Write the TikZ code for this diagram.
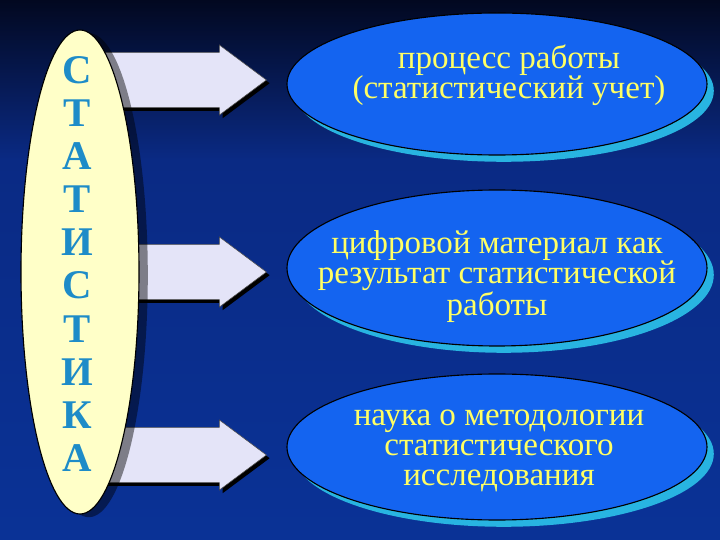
\documentclass[tikz,border=0pt]{standalone}
\usepackage{fontspec}
\setmainfont{Liberation Serif}
\usepackage{tikz}
\usetikzlibrary{calc, shadows, shapes.geometric}
\definecolor{bgtop}{RGB}{2,8,32}
\definecolor{bgmid}{RGB}{10,42,132}
\definecolor{bgbot}{RGB}{10,50,150}
\definecolor{paleyellow}{RGB}{255,255,200}
\definecolor{letterblue}{RGB}{30,140,200}
\definecolor{arrowfill}{RGB}{228,228,248}
\definecolor{bubbleblue}{RGB}{20,100,240}
\definecolor{bubbleshadow}{RGB}{40,180,225}
\definecolor{textyellow}{RGB}{255,255,100}
\tikzset{
    % tall yellow ellipse holding the word, letter by letter
    titlebar/.style={ellipse, draw=black, thick, fill=paleyellow,
        minimum width=2.95cm, minimum height=12.1cm, inner sep=0pt,
        drop shadow={shadow xshift=0.22cm, shadow yshift=-0.08cm,
            fill=black, opacity=0.45}},
    % one letter of the word
    letter/.style={font=\fontsize{29}{29}\selectfont\bfseries,
        text=letterblue, inner sep=0pt},
    % blue ellipse on the right, one per meaning
    bubble/.style={ellipse, draw=black, thick, fill=bubbleblue,
        minimum width=10.5cm, inner sep=0pt,
        drop shadow={shadow xshift=0.17cm, shadow yshift=-0.17cm,
            fill=bubbleshadow, opacity=1}},
    % text inside a bubble
    bubbletext/.style={font=\fontsize{23.5}{21.5}\selectfont,
        text=textyellow, align=center, inner sep=0pt},
    % wide block arrow with a dark drop shadow
    blockarr/.style={fill=arrowfill, draw=black!70, thin,
        preaction={fill=black, transform canvas={xshift=0.08cm, yshift=-0.08cm}}},
}
\begin{document}
\begin{tikzpicture}

    \useasboundingbox (0,0) rectangle (18,13.5);

    % --- background ---
    \shade[top color=bgtop, bottom color=bgmid] (0,9.5) rectangle (18,13.5);
    \shade[top color=bgmid, bottom color=bgbot] (0,0) rectangle (18,9.5);

    % --- meanings (right) ---
    \node[bubble, minimum height=3.55cm] (p1) at (12.425, 11.4)  {};
    \node[bubble, minimum height=3.9cm]  (p2) at (12.425, 6.8)   {};
    \node[bubble, minimum height=3.65cm] (p3) at (12.425, 2.325) {};

    \node[bubbletext] (t1) at ($(p1)+(0.3,0.22)$)
        {процесс работы\\(статистический учет)};
    \node[bubbletext] (t2) at ($(p2)+(0,-0.22)$)
        {цифровой материал как\\результат статистической\\работы};
    \node[bubbletext] (t3) at ($(p3)+(0.05,-0.1)$)
        {наука о методологии\\статистического\\исследования};

    % --- block arrows, tail hidden under the word ---
    \foreach \ay [count=\i] in {11.5, 6.7, 2.125}{
        \coordinate (tail\i) at (2.6, \ay);
        \coordinate (tip\i) at ($(p\i.west |- tail\i)+(-0.5,0)$);
        \draw[blockarr] ($(tail\i)+(0,0.69)$) -- ($(tip\i)+(-1.175,0.69)$)
            -- ($(tip\i)+(-1.175,0.875)$) -- (tip\i)
            -- ($(tip\i)+(-1.175,-0.875)$) -- ($(tip\i)+(-1.175,-0.69)$)
            -- ($(tail\i)+(0,-0.69)$) -- cycle;
    }

    % --- the word ---
    \node[titlebar] (word) at (2.0, 6.7) {};
    \foreach \ch [count=\i] in {С,Т,А,Т,И,С,Т,И,К,А}{
        \node[letter] (l\i) at (1.925, {11.75-1.078*(\i-1)}) {\ch};
    }

\end{tikzpicture}
\end{document}
